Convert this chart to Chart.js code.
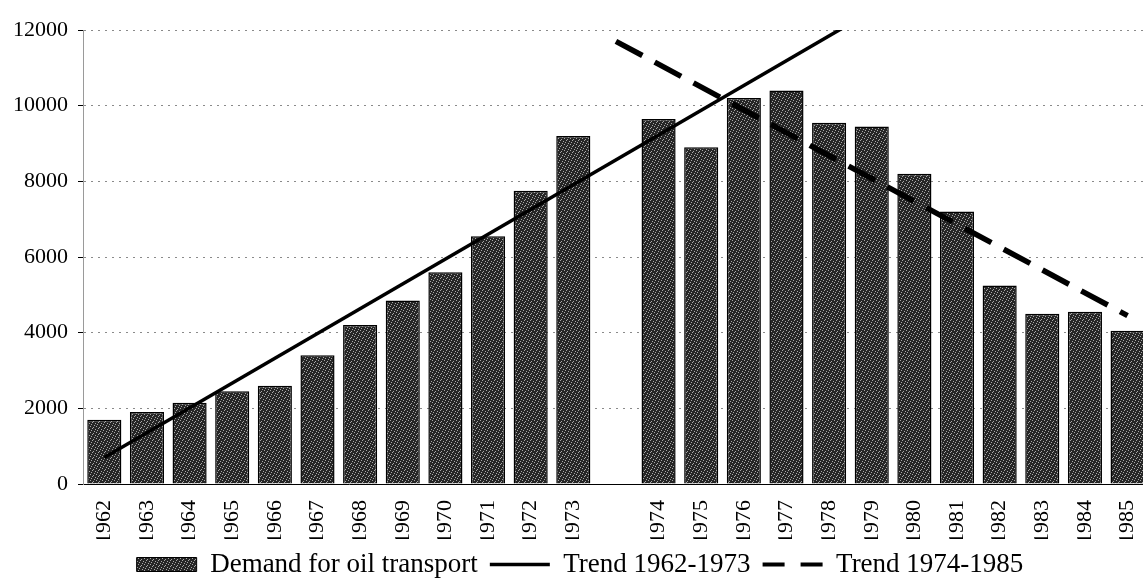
<!DOCTYPE html>
<html>
<head>
<meta charset="utf-8">
<script src="https://cdn.jsdelivr.net/npm/chart.js@4.4.1/dist/chart.umd.min.js"></script>
<style>
  body { margin: 0; background: #fff; overflow: hidden; }
  #wrap { width: 1162px; height: 588px; }
</style>
</head>
<body>
<div id="wrap"><canvas id="oilChart" width="1162" height="588"></canvas></div>
<script>
// years (empty slot between 1973 and 1974 as in the original)
var years = ['1962', '1963', '1964', '1965', '1966', '1967', '1968', '1969', '1970', '1971', '1972', '1973', '',
             '1974', '1975', '1976', '1977', '1978', '1979', '1980', '1981', '1982', '1983', '1984', '1985'];
var demand = [1700, 1900, 2150, 2450, 2600, 3400, 4200, 4850, 5600, 6550, 7750, 9200, null,
              9650, 8900, 10200, 10400, 9550, 9450, 8200, 7200, 5250, 4500, 4550, 4050];
// trend lines: only the end points (line runs out of the top at 12000)
var trend6273 = [700, null, null, null, null, null, null, null, null, null, null, null, null,
                 null, null, null, null, null, 12500, null, null, null, null, null, null];
var trend7485 = [null, null, null, null, null, null, null, null, null, null, null, null, 11700,
                 null, null, null, null, null, null, null, null, null, null, null, 4450];
var yTicks = [0, 2000, 4000, 6000, 8000, 10000, 12000];

var serif = "'Liberation Serif', 'Times New Roman', serif";
Chart.defaults.font.family = serif;
Chart.defaults.color = '#000';

// speckled dark fill like the printed original
function speckle() {
    var c = document.createElement('canvas');
    c.width = 6; c.height = 6;
    var g = c.getContext('2d');
    g.fillStyle = '#262626';
    g.fillRect(0, 0, 6, 6);
    g.fillStyle = '#a8a8a8';
    [[0, 0], [3, 1], [5, 3], [1, 4], [4, 5], [2, 2]].forEach(function (p) { g.fillRect(p[0], p[1], 1, 1); });
    return g.createPattern(c, 'repeat');
}
var barFill = speckle();

var ctx = document.getElementById('oilChart').getContext('2d');
var chart = new Chart(ctx, {
    type: 'bar',
    data: {
        labels: years,
        datasets: [{
            label: 'Demand for oil transport',
            data: demand,
            backgroundColor: barFill,
            borderColor: '#000',
            borderWidth: 1.5,
            categoryPercentage: 1,
            barPercentage: 0.8,
            order: 2
        }, {
            type: 'line',
            label: 'Trend 1962-1973',
            data: trend6273,
            spanGaps: true,
            clip: 0,
            borderColor: '#000',
            borderWidth: 3.5,
            pointRadius: 0,
            order: 1
        }, {
            type: 'line',
            label: 'Trend 1974-1985',
            data: trend7485,
            spanGaps: true,
            clip: 0,
            borderColor: '#000',
            borderWidth: 5.5,
            borderDash: [30, 14],
            pointRadius: 0,
            order: 0
        }]
    },
    options: {
        responsive: false,
        animation: false,
        layout: { padding: { top: 30, right: 2, left: 0, bottom: 0 } },
        scales: {
            x: {
                grid: { display: false },
                border: { color: '#000', width: 1 },
                ticks: {
                    font: { size: 22 },
                    minRotation: 90,
                    maxRotation: 90,
                    padding: 8,
                    autoSkip: false
                },
                afterFit: function (scale) { scale.height = 55; }
            },
            y: {
                min: 0,
                max: 12000,
                afterBuildTicks: function (scale) {
                    scale.ticks = yTicks.map(function (v) { return { value: v }; });
                },
                grid: {
                    color: '#8a8a8a',
                    lineWidth: 1,
                    tickLength: 5,
                    tickColor: '#000',
                    tickBorderDash: []
                },
                border: { display: true, color: '#9a9a9a', width: 1, dash: [2, 5] },
                ticks: {
                    font: { size: 22 },
                    padding: 10,
                    callback: function (v) { return String(v); }
                },
                afterFit: function (scale) { scale.width = 83; }
            }
        },
        plugins: {
            tooltip: { enabled: false },
            legend: {
                display: true,
                position: 'bottom',
                labels: {
                    usePointStyle: true,
                    pointStyleWidth: 60,
                    boxHeight: 14,
                    padding: 12,
                    font: { size: 27 },
                    generateLabels: function () {
                        return [
                            { text: 'Demand for oil transport', pointStyle: 'rect', fillStyle: barFill, strokeStyle: '#000', lineWidth: 1, datasetIndex: 0 },
                            { text: 'Trend 1962-1973', pointStyle: 'line', fillStyle: '#000', strokeStyle: '#000', lineWidth: 3.5, datasetIndex: 1 },
                            { text: 'Trend 1974-1985', pointStyle: 'line', fillStyle: '#000', strokeStyle: '#000', lineWidth: 4, lineDash: [22, 16], datasetIndex: 2 }
                        ];
                    }
                }
            }
        }
    }
});
</script>
</body>
</html>
